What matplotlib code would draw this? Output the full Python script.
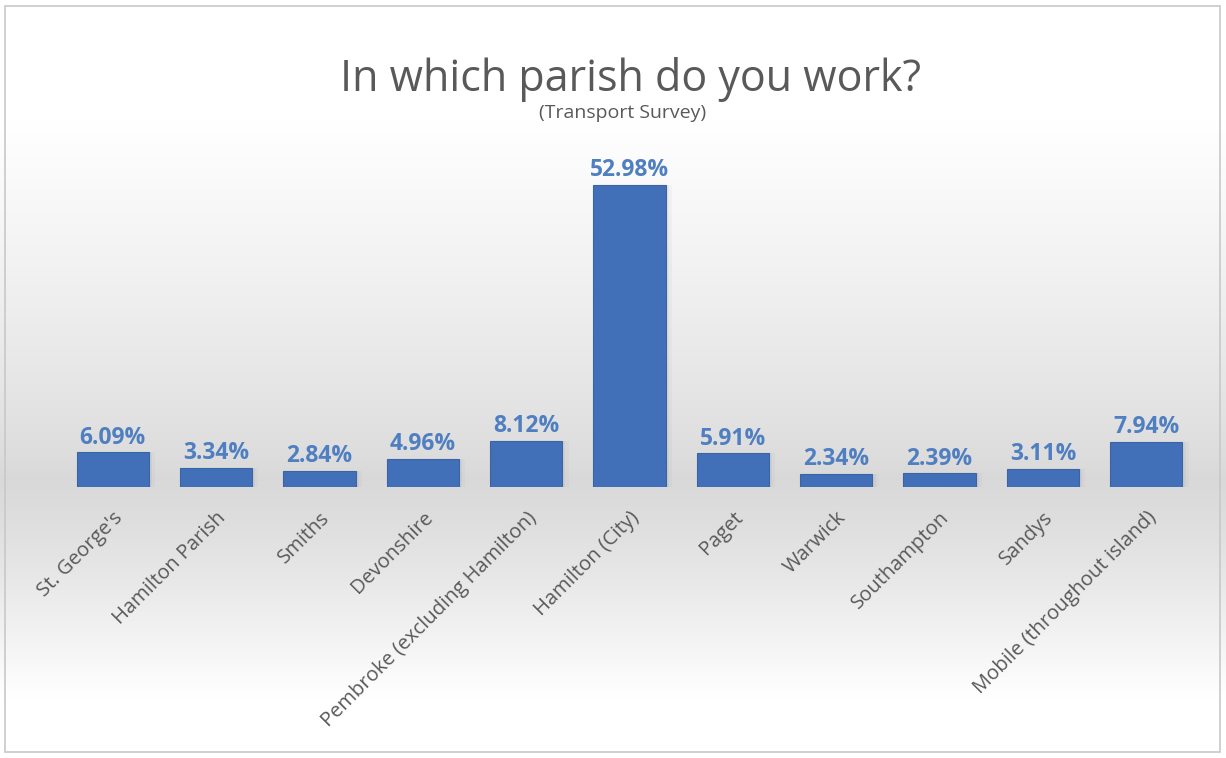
import matplotlib
matplotlib.use("Agg")
import matplotlib.pyplot as plt
import numpy as np
from matplotlib.patches import Rectangle

categories = ["St. George's", "Hamilton Parish", "Smiths", "Devonshire",
              "Pembroke (excluding Hamilton)", "Hamilton (City)", "Paget",
              "Warwick", "Southampton", "Sandys", "Mobile (throughout island)"]
values = [6.09, 3.34, 2.84, 4.96, 8.12, 52.98, 5.91, 2.34, 2.39, 3.11, 7.94]
title = "In which parish do you work?"
subtitle = "(Transport Survey)"

W, H = 1226, 758
fig = plt.figure(figsize=(W / 100, H / 100), dpi=100)

# background gradient
bg = fig.add_axes([0, 0, 1, 1], zorder=-10)
ys = np.linspace(0, 1, 400)  # 0 = bottom, 1 = top
def shade(y):
    pk = 0.37
    if y >= pk:
        t = np.clip((y - pk) / (0.84 - pk), 0, 1)
        return 0.85 + (1.0 - 0.85) * t ** 0.8
    else:
        t = np.clip((pk - y) / (pk - 0.08), 0, 1)
        return 0.85 + (1.0 - 0.85) * t ** 1.2
col = np.array([shade(y) for y in ys])
img = np.repeat(col[:, None], 2, axis=1)
bg.imshow(np.dstack([img, img, img]), extent=[0, 1, 0, 1], origin='lower', aspect='auto')
bg.add_patch(Rectangle((5 / W, 6 / H), (W - 11) / W, (H - 12) / H, fill=False,
                       edgecolor='#c8c8c8', lw=1.2, transform=bg.transAxes))
bg.set_xlim(0, 1); bg.set_ylim(0, 1)
bg.axis('off')

font = "Open Sans"
ax = fig.add_axes([61 / W, (H - 487) / H, (1198 - 61) / W, (487 - 145) / H])
ax.patch.set_alpha(0)
x = np.arange(len(categories))
# soft shadow
for dx, a in [(0.03, 0.08), (0.06, 0.05)]:
    ax.bar(x + dx, values, width=0.70, color='#7a7a7a', alpha=a, zorder=1)
bars = ax.bar(x, values, width=0.70, color='#4170B8', edgecolor='#3a64a6', lw=0.8, zorder=2)
for xi, v in zip(x, values):
    ax.annotate(f"{v:.2f}%", (xi, v), xytext=(0, 2), textcoords='offset points',
                ha='center', va='bottom', fontsize=16.5, fontweight='bold',
                color='#4F7FC1', family=font, zorder=3)
ax.set_xlim(-0.5, len(categories) - 0.5)
ax.set_ylim(0, 60)
ax.set_xticks(x)
ax.set_xticklabels(categories, rotation=45, ha='right', rotation_mode='anchor',
                   fontsize=14.5, color='#595959', family=font)
ax.tick_params(axis='x', length=0, pad=15)
ax.set_yticks([])
for s in ax.spines.values():
    s.set_visible(False)

fig.text(630 / W, (H - 79) / H, title, ha='center', va='center', fontsize=31,
         color='#595959', family=font)
fig.text(623 / W, (H - 113) / H, subtitle, ha='center', va='center', fontsize=14,
         color='#595959', family=font)

fig.savefig("out.png", dpi=100)
